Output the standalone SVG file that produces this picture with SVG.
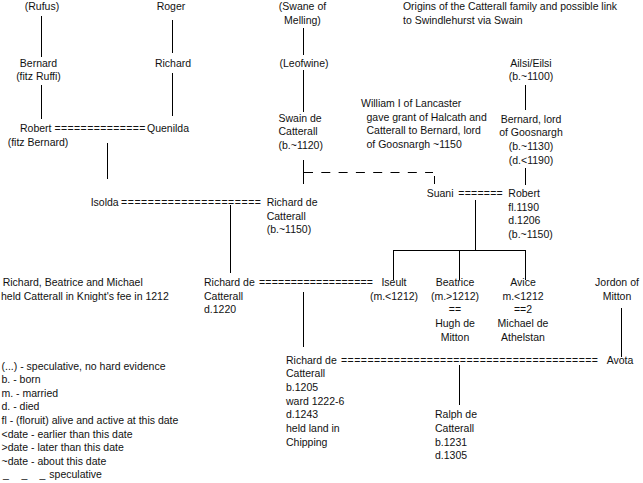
<svg xmlns="http://www.w3.org/2000/svg" width="643" height="483" viewBox="0 0 643 483">
<style>
text{font-family:"Liberation Sans",Arial,sans-serif;font-size:10.5px;fill:#111}
.m{text-anchor:middle}
.ln{stroke:#000;stroke-width:1;fill:none}
.dash{stroke-dasharray:9 8.3}
</style>
<rect width="643" height="483" fill="#fff"/>
<g id="connectors">
<path class="ln" d="M41.5,16V57M41.5,85V119M172.5,20V53M172.5,73V116M107.5,143V179M303.5,28V55M303.5,70V112M303.5,160V184M434.5,176V184M525.5,85V110M525.5,168V185M475.5,200V250M393,250.5H526M393.5,250V280M459.5,250V280M525.5,250V280M230.5,205V273M303.5,292V347M621.5,308V357M459.5,365V405"/>
<path class="ln dash" d="M304,172.5H433"/>
</g>
<g id="title"><text x="403" y="10" textLength="214" lengthAdjust="spacingAndGlyphs">Origins of the Catterall family and possible link</text><text x="403" y="24">to Swindlehurst via Swain</text></g>
<g id="rufus"><text class="m" x="42" y="10">(Rufus)</text></g>
<g id="roger"><text class="m" x="171" y="10">Roger</text></g>
<g id="swane"><text class="m" x="302.5" y="10">(Swane of<tspan x="302.5" dy="14">Melling)</tspan></text></g>
<g id="bernard-fitz-ruffi"><text class="m" x="38.5" y="66.5">Bernard<tspan x="38.5" dy="13.7">(fitz Ruffi)</tspan></text></g>
<g id="richard-1"><text class="m" x="173" y="66.5">Richard</text></g>
<g id="leofwine"><text class="m" x="304" y="66.5">(Leofwine)</text></g>
<g id="ailsi"><text class="m" x="531" y="66.5">Ailsi/Eilsi<tspan x="531" dy="13.7">(b.~1100)</tspan></text></g>
<g id="william-note"><text x="361" y="107">William I of Lancaster<tspan x="366.5" dy="13.7">gave grant of Halcath and</tspan><tspan x="366.5" dy="13.7">Catterall to Bernard, lord</tspan><tspan x="366.5" dy="13.7">of Goosnargh ~1150</tspan></text></g>
<g id="swain"><text x="278.5" y="121.5">Swain de<tspan x="278.5" dy="13.7">Catterall</tspan><tspan x="278.5" dy="13.7">(b.~1120)</tspan></text></g>
<g id="bernard-lord"><text class="m" x="531" y="122.5">Bernard, lord<tspan x="531" dy="13.7">of Goosnargh</tspan><tspan x="531" dy="13.7">(b.~1130)</tspan><tspan x="531" dy="13.7">(d.&lt;1190)</tspan></text></g>
<g id="robert-fitz-bernard"><text x="20" y="131.5">Robert<tspan x="38" dy="14" text-anchor="middle">(fitz Bernard)</tspan></text>
<text x="54.5" y="131.5" textLength="91" lengthAdjust="spacing">==============</text></g>
<g id="quenilda"><text x="147" y="131.5">Quenilda</text></g>
<g id="suani"><text x="426.7" y="197">Suani</text><text x="458.3" y="197" textLength="44.4" lengthAdjust="spacing">=======</text></g>
<g id="robert-2"><text x="508.3" y="197">Robert<tspan x="508.3" dy="13.7">fl.1190</tspan><tspan x="508.3" dy="13.7">d.1206</tspan><tspan x="508.3" dy="13.7">(b.~1150)</tspan></text></g>
<g id="isolda"><text x="90.7" y="206">Isolda</text><text x="121" y="206" textLength="140" lengthAdjust="spacing">=====================</text></g>
<g id="richard-1150"><text x="266.7" y="206">Richard de<tspan x="266.7" dy="13.7">Catterall</tspan><tspan x="266.7" dy="13.7">(b.~1150)</tspan></text></g>
<g id="knight-note"><text x="2.7" y="286">Richard, Beatrice and Michael<tspan x="1" dy="13.7">held Catterall in Knight's fee in 1212</tspan></text></g>
<g id="richard-1220"><text x="204" y="286">Richard de<tspan x="204" dy="13.7">Catterall</tspan><tspan x="204" dy="13.7">d.1220</tspan></text><text x="259" y="286" textLength="114" lengthAdjust="spacing">==================</text></g>
<g id="iseult"><text class="m" x="394" y="286">Iseult<tspan x="394" dy="13.7">(m.&lt;1212)</tspan></text></g>
<g id="beatrice"><text class="m" x="455" y="286">Beatrice<tspan x="455" dy="13.7">(m.&gt;1212)</tspan><tspan x="455" dy="13.7">==</tspan><tspan x="455" dy="13.7">Hugh de</tspan><tspan x="455" dy="13.7">Mitton</tspan></text></g>
<g id="avice"><text class="m" x="523" y="286">Avice<tspan x="523" dy="13.7">m.&lt;1212</tspan><tspan x="523" dy="13.7">==2</tspan><tspan x="523" dy="13.7">Michael de</tspan><tspan x="523" dy="13.7">Athelstan</tspan></text></g>
<g id="jordon"><text class="m" x="617" y="286">Jordon of<tspan x="617" dy="13.7">Mitton</tspan></text></g>
<g id="richard-1205"><text x="286" y="363.5">Richard de<tspan x="286" dy="13.7">Catterall</tspan><tspan x="286" dy="13.7">b.1205</tspan><tspan x="286" dy="13.7">ward 1222-6</tspan><tspan x="286" dy="13.7">d.1243</tspan><tspan x="286" dy="13.7">held land in</tspan><tspan x="286" dy="13.7">Chipping</tspan></text><text x="341" y="363.5" textLength="257" lengthAdjust="spacing">=======================================</text></g>
<g id="avota"><text x="606.7" y="363.5">Avota</text></g>
<g id="ralph"><text x="435" y="418.3">Ralph de<tspan x="435" dy="13.7">Catterall</tspan><tspan x="435" dy="13.7">b.1231</tspan><tspan x="435" dy="13.7">d.1305</tspan></text></g>
<g id="legend"><text x="1.5" y="369.5">(...) - speculative, no hard evidence<tspan x="1.5" dy="13.6">b. - born</tspan><tspan x="1.5" dy="13.6">m. - married</tspan><tspan x="1.5" dy="13.6">d. - died</tspan><tspan x="1.5" dy="13.6">fl - (floruit) alive and active at this date</tspan><tspan x="1.5" dy="13.6">&lt;date - earlier than this date</tspan><tspan x="1.5" dy="13.6">&gt;date - later than this date</tspan><tspan x="1.5" dy="13.6">~date - about this date</tspan><tspan x="3" dy="13.6">_</tspan><tspan x="21.5">_</tspan><tspan x="39.5">_</tspan><tspan x="49.3">speculative</tspan></text></g>
</svg>
